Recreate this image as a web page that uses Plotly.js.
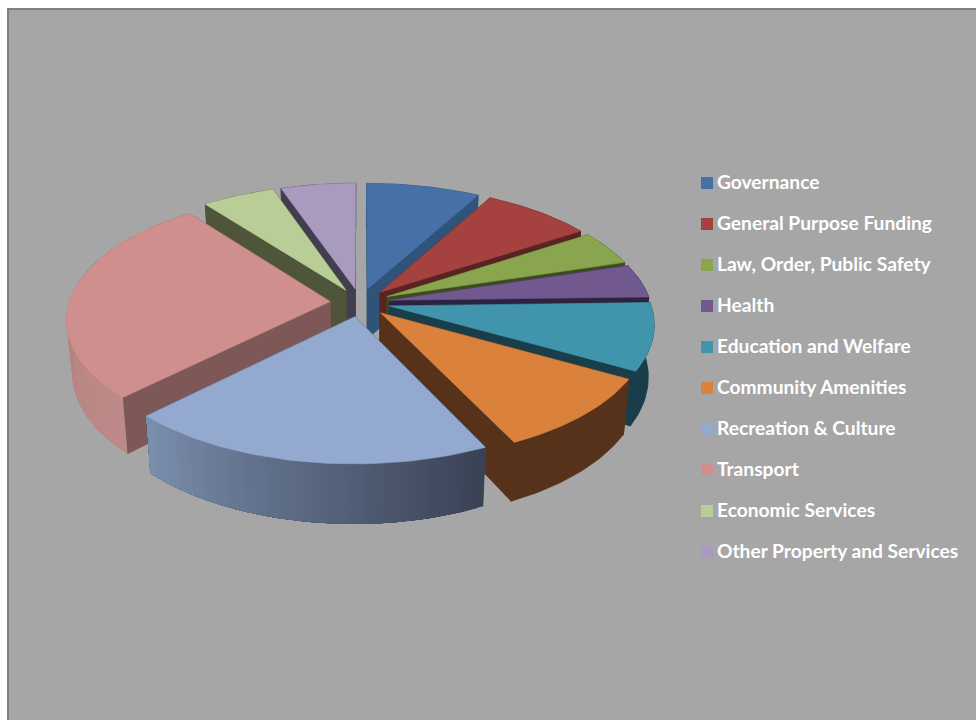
<!DOCTYPE html>
<html>
<head>
<meta charset="utf-8">
<script src="https://cdn.plot.ly/plotly-3.0.1.min.js"></script>
<style>html,body{margin:0;padding:0;background:#fff}#chart{width:976px;height:720px}</style>
</head>
<body>
<div id="chart"></div>
<script>
// ---- chart data ----
const categories = ["Governance","General Purpose Funding","Law, Order, Public Safety","Health","Education and Welfare","Community Amenities","Recreation & Culture","Transport","Economic Services","Other Property and Services"];
const shares = [8.05,7.8,4.45,4.3,8.6,9.7,19.7,27.05,5.15,5.3];
const topColors = ["#4571a7","#a5423f","#89a54e","#71588f","#4095ad","#da813c","#93a9cf","#cf8f8e","#b9cd96","#a99bbd"];
const sideColors = ["#2f5379","#5a2323","#3d4a22","#2d2340","#193e4a","#57321a","#3f4a63","#7d5856","#4e5539","#423e50"];
const outerFrom = ["#2f5379","#5a2323","#3d4a22","#2d2340","#193e4a","#57321a","#394154","#bd8a88","#4e5539","#423e50"];
const outerTo = ["#2f5379","#5a2323","#3d4a22","#2d2340","#193e4a","#57321a","#7b8fae","#ac7b79","#4e5539","#423e50"];
const drawOrder = [9,8,7,0,1,2,3,4,5,6];

// ---- view of the 3-D pie ----
const cx=360, cy=302.5, R=261, pull=30, tilt=0.472, persp=1934, depth=51, narrow=0.98;
function project(X,Z,low){
  const s=1/(1-Z/persp);
  return [cx+X*s*(low?narrow:1), cy+tilt*Z*s+(low?depth*s:0)];
}
function hex(c){return [1,3,5].map(i=>parseInt(c.substr(i,2),16));}
function mix(a,b,t){const A=hex(a),B=hex(b);return 'rgb('+A.map((v,i)=>Math.round(v+(B[i]-v)*t)).join(',')+')';}
function poly(pts,color,lw){
  const xs=pts.map(p=>p[0]),ys=pts.map(p=>p[1]);
  xs.push(xs[0]);ys.push(ys[0]);
  return {type:'scatter',mode:'lines',x:xs,y:ys,fill:'toself',fillcolor:color,line:{color:color,width:lw===undefined?0.6:lw},hoverinfo:'skip',showlegend:false};
}

const total=shares.reduce((a,b)=>a+b,0);
let run=0;
const spans=shares.map(v=>{const a=run;run+=v/total*360;return [a,run];});
const rad=d=>d*Math.PI/180;

const traces=[];
drawOrder.forEach(i=>{
  const [a0,a1]=spans[i], mid=(a0+a1)/2;
  const px=pull*Math.sin(rad(mid)), pz=-pull*Math.cos(rad(mid));
  const rim=a=>[px+R*Math.sin(rad(a)), pz-R*Math.cos(rad(a))];
  const P=(p,low)=>project(p[0],p[1],low);
  const apex=[px,pz];
  // radial walls
  [a0,a1].forEach(a=>{
    const e=rim(a);
    traces.push(poly([P(apex,false),P(e,false),P(e,true),P(apex,true)],sideColors[i],0.8));
  });
  // outer wall: each band reaches to the slice's far end and the next one paints over it
  const flat=outerFrom[i]===outerTo[i];
  const n=flat?1:Math.ceil((a1-a0)/1.2);
  for(let j=0;j<n;j++){
    const b0=a0+(a1-a0)*j/n;
    const steps=Math.max(2,Math.ceil((a1-b0)/1.5));
    const arc=[];
    for(let q=0;q<=steps;q++) arc.push(rim(b0+(a1-b0)*q/steps));
    const band=arc.map(m=>P(m,false)).concat(arc.slice().reverse().map(m=>P(m,true)));
    traces.push(poly(band,mix(outerFrom[i],outerTo[i],(j+.5)/n),flat?0.8:0));
  }
  // top face
  const top=[P(apex,false)];
  const m=Math.ceil((a1-a0)/1.5);
  for(let j=0;j<=m;j++) top.push(P(rim(a0+(a1-a0)*j/m),false));
  traces.push(poly(top,topColors[i]));
});

// ---- legend ----
const keyX=707,keyY=183,keyStep=41,labelX=717;
traces.push({type:'scatter',mode:'markers',
  x:categories.map(()=>keyX),y:categories.map((c,i)=>keyY+i*keyStep),
  marker:{symbol:'square',size:12,color:topColors,line:{width:0}},
  hovertext:categories,hoverinfo:'text',showlegend:false});
const annotations=categories.map((c,i)=>({x:labelX,y:keyY+i*keyStep,xref:'x',yref:'y',xanchor:'left',yanchor:'middle',
  text:c,showarrow:false,xshift:-2,yshift:2,align:'left',font:{family:'Lato, "Open Sans", sans-serif',size:19.2,color:'#ffffff',weight:700}}));

const layout={width:976,height:720,margin:{l:0,r:0,t:0,b:0},paper_bgcolor:'#ffffff',plot_bgcolor:'rgba(0,0,0,0)',showlegend:false,
  xaxis:{range:[0,976],visible:false,fixedrange:true},
  yaxis:{range:[720,0],visible:false,fixedrange:true},
  shapes:[{type:'rect',layer:'below',xref:'x',yref:'y',x0:8,y0:9,x1:990,y1:740,fillcolor:'#a6a6a6',line:{color:'#808080',width:2}}],
  annotations:annotations};
Plotly.newPlot('chart',traces,layout,{displayModeBar:false});
</script>
</body>
</html>
